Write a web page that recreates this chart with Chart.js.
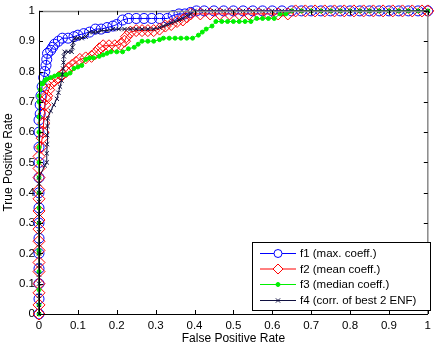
<!DOCTYPE html>
<html>
<head>
<meta charset="utf-8">
<script src="https://cdn.jsdelivr.net/npm/chart.js@4.4.1/dist/chart.umd.min.js"></script>
<style>
html, body { margin: 0; padding: 0; background: #fff; }
</style>
</head>
<body>
<canvas id="roc" width="436" height="343"></canvas>
<script>
// tick values / labels (both axes)
const tickVals = [0, 0.1, 0.2, 0.3, 0.4, 0.5, 0.6, 0.7, 0.8, 0.9, 1];
const tickLabels = ['0', '0.1', '0.2', '0.3', '0.4', '0.5', '0.6', '0.7', '0.8', '0.9', '1'];

const seriesNames = ['f1 (max. coeff.)', 'f2 (mean coeff.)', 'f3 (median coeff.)', 'f4 (corr. of best 2 ENF)'];

// f1 - max coeff
const f1Fpr = [0,0,0,0,0,0,0,0,0,0,0,0,0,0,
  0.003,0.003,0.005,0.008,0.012,0.015,0.018,0.02,0.022,
  0.03,0.035,0.04,0.05,0.06,0.075,0.09,
  0.1,0.115,0.13,0.145,0.16,0.175,0.19,0.2,
  0.215,0.23,0.25,0.27,0.29,0.31,0.33,
  0.345,0.36,0.375,0.39,0.405,
  0.425,0.45,0.475,0.5,0.525,0.55,0.575,0.6,0.625,0.65,0.675,0.7,0.725,0.75,0.775,0.8,0.825,0.85,0.875,0.9,0.925,0.95,0.975,1];
const f1Tpr = [0,0.05,0.1,0.15,0.2,0.25,0.3,0.35,0.4,0.45,0.5,0.55,0.6,0.64,
  0.66,0.69,0.72,0.75,0.78,0.8,0.82,0.84,0.86,
  0.87,0.88,0.89,0.9,0.91,0.91,0.915,
  0.92,0.925,0.93,0.94,0.94,0.945,0.95,0.955,
  0.97,0.975,0.975,0.975,0.975,0.975,0.975,
  0.985,0.99,0.99,0.995,1,
  1,1,1,1,1,1,1,1,1,1,1,1,1,1,1,1,1,1,1,1,1,1,1,1];

// f2 - mean coeff
const f2Fpr = [0,0,0,0,0,0,0,0,0,0,0,0,0,0,0,0,
  0.005,0.008,0.01,0.012,0.013,0.015,0.018,0.02,0.025,0.03,
  0.04,0.05,0.06,0.07,0.075,0.085,0.095,0.105,0.12,0.135,
  0.145,0.155,0.165,0.18,0.195,0.21,0.22,0.225,0.235,0.25,
  0.265,0.28,0.295,0.31,0.325,0.34,0.355,0.37,0.38,0.39,
  0.415,0.44,0.465,0.49,0.515,0.54,0.565,0.59,0.615,0.64,
  0.66,0.685,0.71,0.735,0.76,0.785,0.81,0.835,0.86,0.885,0.91,0.935,0.96,0.985,1];
const f2Tpr = [0,0.03,0.07,0.1,0.14,0.17,0.21,0.24,0.28,0.31,0.34,0.38,0.41,0.45,0.48,0.52,
  0.55,0.58,0.6,0.63,0.66,0.69,0.71,0.72,0.74,0.76,
  0.77,0.78,0.79,0.8,0.81,0.82,0.83,0.84,0.845,0.85,
  0.86,0.875,0.885,0.885,0.885,0.89,0.9,0.915,0.93,0.935,
  0.935,0.935,0.935,0.94,0.95,0.955,0.965,0.97,0.98,0.99,
  0.99,0.99,0.99,0.99,0.99,0.99,0.99,0.99,0.99,0.99,
  1,1,1,1,1,1,1,1,1,1,1,1,1,1,1];

// f3 - median coeff
const f3Fpr = [0,0,0,0,0,0,0,0,0,0,0,0,0,0,0,0,
  0.003,0.005,0.01,0.015,0.02,0.03,0.04,0.05,0.06,0.07,
  0.08,0.09,0.1,0.11,0.12,0.13,0.14,0.155,0.165,0.175,
  0.185,0.2,0.215,0.23,0.245,0.255,0.265,0.28,0.295,0.31,
  0.32,0.335,0.35,0.365,0.38,0.395,0.41,0.42,0.43,0.445,
  0.455,0.47,0.485,0.5,0.515,0.53,0.545,0.56,0.575,0.59,
  0.605,0.62,0.635,0.65,0.675,0.7,0.725,0.75,0.775,0.8,0.825,0.85,0.875,0.9,0.925,0.95,0.975,1];
const f3Tpr = [0,0.03,0.08,0.14,0.2,0.21,0.3,0.35,0.4,0.45,0.5,0.55,0.6,0.65,0.7,0.72,
  0.74,0.76,0.76,0.77,0.775,0.78,0.785,0.79,0.79,0.79,
  0.795,0.81,0.815,0.82,0.84,0.845,0.845,0.85,0.855,0.86,
  0.865,0.865,0.865,0.875,0.88,0.89,0.9,0.9,0.9,0.905,
  0.91,0.91,0.91,0.91,0.91,0.91,0.92,0.93,0.94,0.95,
  0.965,0.965,0.965,0.965,0.965,0.965,0.965,0.975,0.975,0.975,
  0.975,0.99,0.99,1,1,1,1,1,1,1,1,1,1,1,1,1,1,1];

// f4 - corr. of best 2 ENF
const f4Fpr = [0,0,0,0,0,0,0,0,0,0,0,0,0,0,0,
  0.015,0.02,0.02,0.021,0.021,0.022,0.023,
  0.03,0.038,0.046,0.05,0.054,0.058,0.06,0.062,0.063,0.064,0.066,
  0.075,0.084,0.086,0.088,0.092,0.1,0.11,0.12,0.13,0.14,0.15,
  0.16,0.175,0.19,0.205,0.22,0.235,0.25,0.265,0.28,0.295,
  0.31,0.32,0.33,0.34,0.35,0.36,0.37,0.38,0.39,0.4,
  0.425,0.45,0.475,0.5,0.525,0.55,0.575,0.6,0.625,0.65,0.675,0.7,0.725,0.75,0.775,0.8,0.825,0.85,0.875,0.9,0.925,0.95,0.975,1];
const f4Tpr = [0,0.03,0.06,0.1,0.13,0.16,0.2,0.23,0.27,0.3,0.33,0.37,0.4,0.43,0.45,
  0.49,0.5,0.53,0.56,0.59,0.62,0.645,
  0.67,0.69,0.71,0.73,0.75,0.77,0.79,0.81,0.83,0.85,0.865,
  0.865,0.865,0.88,0.895,0.91,0.91,0.91,0.915,0.93,0.93,0.93,
  0.935,0.935,0.94,0.94,0.94,0.94,0.94,0.94,0.94,0.94,
  0.945,0.95,0.955,0.96,0.965,0.97,0.975,0.985,0.99,1,
  1,1,1,1,1,1,1,1,1,1,1,1,1,1,1,1,1,1,1,1,1,1,1,1];

function pts(xs, ys) {
    const n = Math.min(xs.length, ys.length);
    const out = [];
    for (let i = 0; i < n; i++) out.push({x: xs[i], y: ys[i]});
    return out;
}

const fontFamily = "'Liberation Sans', Arial, sans-serif";
const tickFont = {family: fontFamily, size: 11.5};
const titleFont = {family: fontFamily, size: 12};

const styles = [
    {color: '#0000ff', pointStyle: 'circle', radius: 5, fill: 'rgba(0,0,0,0)'},
    {color: '#ff0000', pointStyle: 'rectRot', radius: 6, fill: 'rgba(0,0,0,0)'},
    {color: '#00f000', pointStyle: 'circle', radius: 2, fill: '#00f000'},
    {color: '#101040', pointStyle: 'crossRot', radius: 3, fill: '#101040'}
];

const allData = [pts(f1Fpr, f1Tpr), pts(f2Fpr, f2Tpr), pts(f3Fpr, f3Tpr), pts(f4Fpr, f4Tpr)];

const datasets = allData.map((d, i) => ({
    label: seriesNames[i],
    data: d,
    showLine: true,
    borderColor: styles[i].color,
    backgroundColor: styles[i].fill,
    borderWidth: 1,
    pointStyle: styles[i].pointStyle,
    pointRadius: styles[i].radius,
    pointBorderWidth: 1,
    pointBorderColor: styles[i].color,
    pointBackgroundColor: styles[i].fill,
    tension: 0,
    clip: false,
    order: 4 - i   // f4 on top like matlab
}));

// axes box, inward ticks and the legend
const frame = {
    id: 'frame',
    afterDraw(chart) {
        const {ctx, chartArea: a, scales: {x, y}} = chart;
        ctx.save();
        // top/right box
        ctx.strokeStyle = '#8a8a8a';
        ctx.lineWidth = 1.5;
        ctx.beginPath();
        ctx.moveTo(a.left, a.top + 0.5);
        ctx.lineTo(a.right, a.top + 0.5);
        ctx.lineTo(a.right, a.bottom);
        ctx.stroke();
        // left/bottom axes
        ctx.strokeStyle = '#000';
        ctx.lineWidth = 1;
        ctx.beginPath();
        ctx.moveTo(a.left + 0.5, a.top);
        ctx.lineTo(a.left + 0.5, a.bottom + 0.5);
        ctx.lineTo(a.right, a.bottom + 0.5);
        ctx.stroke();
        // ticks
        const tl = 4;
        ctx.beginPath();
        tickVals.forEach(v => {
            const px = Math.round(x.getPixelForValue(v)) + 0.5;
            const py = Math.round(y.getPixelForValue(v)) + 0.5;
            ctx.moveTo(px, a.bottom); ctx.lineTo(px, a.bottom - tl);
            ctx.moveTo(px, a.top); ctx.lineTo(px, a.top + tl);
            ctx.moveTo(a.left, py); ctx.lineTo(a.left + tl, py);
            ctx.moveTo(a.right, py); ctx.lineTo(a.right - tl, py);
        });
        ctx.stroke();

        // legend
        const bx = 252.5, by = 242.5, bw = 178, bh = 68;
        ctx.fillStyle = '#fff';
        ctx.fillRect(bx, by, bw, bh);
        ctx.strokeStyle = '#000';
        ctx.strokeRect(bx, by, bw, bh);
        const rows = [253, 268.5, 284, 300];
        ctx.font = tickFont.size + 'px ' + fontFamily;
        ctx.textBaseline = 'middle';
        seriesNames.forEach((name, i) => {
            const s = styles[i];
            const ry = rows[i];
            ctx.strokeStyle = s.color;
            ctx.lineWidth = 1;
            ctx.beginPath();
            ctx.moveTo(260, ry + 0.5); ctx.lineTo(296, ry + 0.5);
            ctx.stroke();
            ctx.fillStyle = (i < 2) ? '#fff' : s.fill;
            Chart.helpers.drawPoint(ctx, {pointStyle: s.pointStyle, radius: i === 0 ? 4 : (i === 1 ? 5 : s.radius), borderWidth: 1, rotation: 0}, 278, ry + 0.5);
            ctx.fillStyle = '#000';
            ctx.fillText(name, 300, ry + 1);
        });
        ctx.restore();
    }
};

new Chart(document.getElementById('roc'), {
    type: 'scatter',
    data: {datasets: datasets},
    options: {
        responsive: false,
        animation: false,
        devicePixelRatio: 1,
        layout: {padding: {top: 5, right: 4, left: 0, bottom: 0}},
        plugins: {legend: {display: false}, tooltip: {enabled: false}},
        scales: {
            x: {
                type: 'linear', min: 0, max: 1,
                afterBuildTicks: s => { s.ticks = tickVals.map(v => ({value: v})); },
                ticks: {callback: (v, i) => tickLabels[i], color: '#000', font: tickFont, padding: 5, maxRotation: 0, autoSkip: false},
                grid: {display: false, drawTicks: false},
                border: {display: false},
                title: {display: true, text: 'False Positive Rate', color: '#000', font: titleFont, padding: {top: 0, bottom: -3}},
                afterFit: s => { s.height = 29; }
            },
            y: {
                type: 'linear', min: 0, max: 1,
                afterBuildTicks: s => { s.ticks = tickVals.map(v => ({value: v})); },
                ticks: {callback: (v, i) => tickLabels[i], color: '#000', font: tickFont, padding: 4, autoSkip: false},
                grid: {display: false, drawTicks: false},
                border: {display: false},
                title: {display: true, text: 'True Positive Rate', color: '#000', font: titleFont, padding: {top: 1, bottom: 0}},
                afterFit: s => { s.width = 39; }
            }
        }
    },
    plugins: [frame]
});
</script>
</body>
</html>
